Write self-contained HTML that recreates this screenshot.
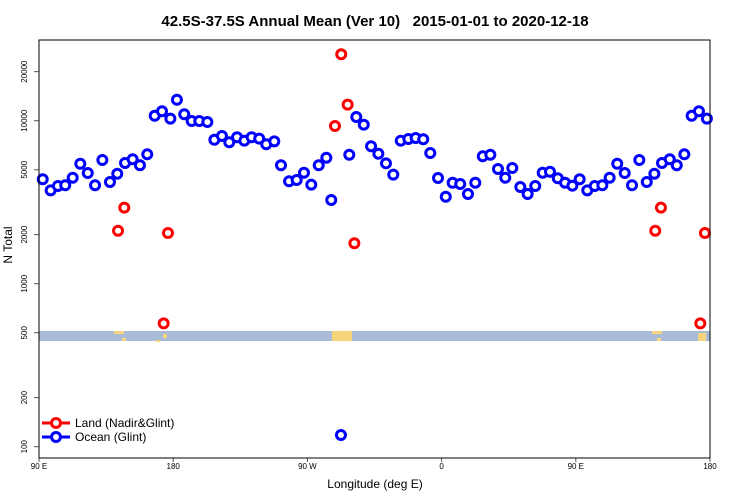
<!DOCTYPE html>
<html><head><meta charset="utf-8"><style>
body{margin:0;background:#fff;}
svg{display:block;font-family:"Liberation Sans",sans-serif;}
</style></head><body>
<svg id="chart" width="750" height="500" viewBox="0 0 750 500">
<rect width="750" height="500" fill="#fff"/>
<text x="375" y="26" text-anchor="middle" font-size="15" font-weight="bold">42.5S-37.5S Annual Mean (Ver 10)&#160;&#160; 2015-01-01 to 2020-12-18</text>
<g id="band"></g>
<g id="axes"></g>
<g id="marks"></g>
<rect x="39" y="40" width="671" height="418" fill="none" stroke="#000" stroke-width="1"/>
<text x="375" y="488" text-anchor="middle" font-size="12">Longitude (deg E)</text>
<text x="0" y="0" transform="translate(12,245) rotate(-90)" text-anchor="middle" font-size="12">N Total</text>
<g>
<g>
<line x1="42" y1="423" x2="70" y2="423" stroke="#f00" stroke-width="3"/>
<circle cx="56" cy="423" r="4.5" fill="#fff" stroke="#f00" stroke-width="3"/>
<text x="75" y="427" font-size="12">Land (Nadir&amp;Glint)</text></g>
<g>
<line x1="42" y1="437" x2="70" y2="437" stroke="#00f" stroke-width="3"/>
<circle cx="56" cy="437" r="4.5" fill="#fff" stroke="#00f" stroke-width="3"/>
<text x="75" y="441" font-size="12">Ocean (Glint)</text></g>
</g>
</svg>
<script>
const oceanLon=[92.5,97.8,102.7,107.6,112.6,117.7,122.7,127.6,132.5,137.6,142.5,147.7,152.8,157.7,162.6,167.6,172.5,178.1,182.5,187.4,192.4,197.5,202.9,207.6,212.7,217.6,222.8,227.7,232.6,237.7,242.4,247.8,252.3,257.7,262.8,267.7,272.6,277.6,282.7,286.0,292.5,298.1,302.8,307.8,312.7,317.6,322.7,327.6,332.6,337.7,342.6,347.7,352.4,357.6,362.8,367.4,372.5,377.7,382.6,387.6,392.7,397.8,402.7,407.4,412.8,417.7,422.8,427.8,432.7,437.9,442.8,447.7,452.6,457.7,462.7,467.8,472.7,477.8,482.8,487.7,492.6,497.6,502.7,507.8,513.0,517.7,522.8,527.7,532.6,537.9];
const oceanVal=[4370,3740,3977,4016,4470,5447,4775,4016,5741,4206,4730,5502,5798,5326,6220,10730,11420,10290,13450,10950,9960,9960,9818,7644,8056,7370,7910,7540,7910,7757,7165,7470,5326,4248,4327,4797,4050,5326,5929,3262,118,6185,10540,9452,6966,6273,5477,4665,7540,7723,7833,7690,6336,4452,3417,4165,4090,3550,4165,6047,6185,5055,4470,5127,3920,3550,3977,4797,4865,4433,4165,3993,4370,3740,3977,4016,4470,5447,4775,4016,5741,4206,4730,5502,5798,5326,6220,10730,11420,10290];
const landLon=[143.0,147.2,173.6,176.5,288.5,292.7,297.0,301.5,503.3,507.1,533.5,536.6];
const landVal=[2114,2927,571,2046,9279,25550,12540,1770,2114,2927,571,2046];
const yTicks=[100,200,500,1000,2000,5000,10000,20000];
const xTickLon=[90,180,270,360,450,540];
const xTickLab=["90 E","180","90 W","0","90 E","180"];
const NS="http://www.w3.org/2000/svg";
const X0=39,X1=710,LON0=90,LON1=540;
function xs(l){return X0+(l-LON0)*(X1-X0)/(LON1-LON0);}
function ys(v){return 120.7-163*(Math.log10(v)-4);}
function mk(t,a,p){const e=document.createElementNS(NS,t);for(const k in a)e.setAttribute(k,a[k]);p.appendChild(e);return e;}
const axes=document.getElementById('axes'),marks=document.getElementById('marks'),band=document.getElementById('band');
let b=mk('rect',{x:39,y:331,width:671,height:10,fill:'#a8bcd8'},band);


[[114,124,331,3],[122,126,338,3],[156,160,340,2],[163,167,334,4],[332,352,331,10],[652,662,331,3],[657,661,338,3],[698,706,333,8]].forEach(r=>{
 const e=mk('rect',{x:r[0],y:r[2],width:r[1]-r[0],height:r[3],fill:'#f6d57c'},band);
 
 
});
yTicks.forEach(v=>{
 const y=ys(v);
 const t=mk('line',{x1:34,x2:39,y1:y,y2:y,stroke:'#555'},axes);
 
 
 const l=mk('text',{x:0,y:0,transform:`translate(27,${y}) rotate(-90)`,'text-anchor':'middle','font-size':'8'},axes);
 l.textContent=v;
 
 
});
xTickLon.forEach((lo,i)=>{
 const x=xs(lo);
 const t=mk('line',{x1:x,x2:x,y1:458,y2:462,stroke:'#555'},axes);
 
 
 const l=mk('text',{x:x,y:469,'text-anchor':'middle','font-size':'8'},axes);
 l.textContent=xTickLab[i];
 
 
});
oceanLon.forEach((lo,i)=>{
 const c=mk('circle',{cx:xs(lo),cy:ys(oceanVal[i]),r:4.5,fill:'#fff',stroke:'#00f','stroke-width':3},marks);
 
 
});
landLon.forEach((lo,i)=>{
 const c=mk('circle',{cx:xs(lo),cy:ys(landVal[i]),r:4.5,fill:'#fff',stroke:'#f00','stroke-width':3},marks);
 
 
});
</script>
</body></html>
